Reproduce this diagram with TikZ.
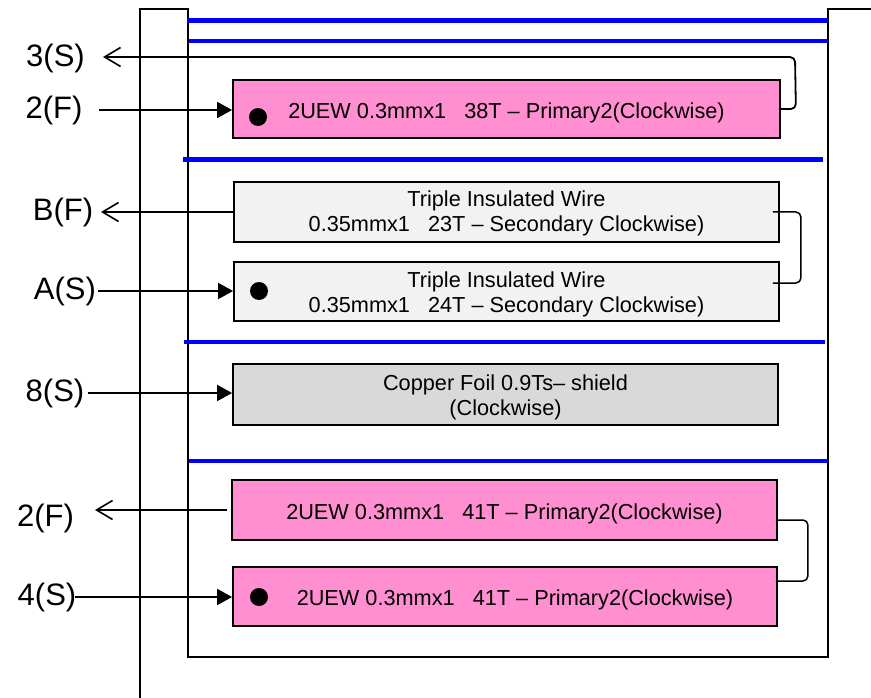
\documentclass[tikz,border=0pt]{standalone}
\usepackage{fontspec}
\setmainfont{Liberation Sans}
\usetikzlibrary{arrows.meta,calc}
\definecolor{coilpink}{RGB}{255,143,208}
\definecolor{tiwgrey}{RGB}{242,242,242}
\definecolor{foilgrey}{RGB}{217,217,217}
% text of a winding, lowered by #1 pt inside its box without changing the box size
\newcommand{\windtext}[2][3]{\raisebox{-#1pt}[\height][\depth]{\begin{tabular}{@{}c@{}}#2\end{tabular}}}
\begin{document}
\begin{tikzpicture}[x=1pt,y=-1pt,
  frame/.style={line width=2pt, line join=miter},
  barrier/.style={line width=4.5pt, color=blue},
  winding/.style={draw, line width=1.8pt, inner sep=0pt,
    minimum width=545pt, minimum height=60pt,
    font=\fontsize{21.7}{25}\selectfont},
  pinkwind/.style={winding, fill=coilpink},
  tiwwind/.style={winding, fill=tiwgrey},
  foilwind/.style={winding, fill=foilgrey},
  pin/.style={font=\fontsize{31}{33}\selectfont, inner sep=0pt},
  feed/.style={line width=1.8pt, -{Triangle[length=15pt,width=16pt]}},
  lead/.style={line width=1.8pt, -{Straight Barb[length=16pt,width=19pt,line width=1.6pt]}},
  jumper/.style={line width=1.5pt, rounded corners=5pt},
  startdot/.style={circle, fill=black, minimum size=18pt, inner sep=0pt}
]
\useasboundingbox (0,0) rectangle (871,698);

% bobbin outline
\draw[frame] (140,698) -- (140,9) -- (187.5,9) -- (187.5,657) -- (828,657) -- (828,9) -- (871,9);

% insulation tape layers
\draw[barrier] (187,20.5) -- (828,20.5);
\draw[barrier] (189,41) -- (828,41);
\draw[barrier] (183,159.5) -- (823,159.5);
\draw[barrier] (184,342) -- (825,342);
\draw[barrier] (189,461) -- (828,461);

% windings
\node[pinkwind, minimum width=547pt, minimum height=58pt] (box1) at (506.5,109)
  {\windtext[4.5]{2UEW 0.3mmx1\ \ \ 38T -- Primary2(Clockwise)}};
\node[tiwwind] (boxB) at (506.5,212)
  {\windtext[2.5]{Triple Insulated Wire\\0.35mmx1\ \ \ 23T -- Secondary Clockwise)}};
\node[tiwwind, minimum height=59pt] (boxA) at (506.5,291.5)
  {\windtext[3.5]{Triple Insulated Wire\\0.35mmx1\ \ \ 24T -- Secondary Clockwise)}};
\node[foilwind, minimum height=61pt] (foil) at (505.5,394.5)
  {\windtext[3.5]{Copper Foil 0.9Ts-- shield\\(Clockwise)}};
\node[pinkwind] (box2F) at (504.5,510)
  {\windtext[4.5]{2UEW 0.3mmx1\ \ \ 41T -- Primary2(Clockwise)}};
\node[pinkwind, minimum width=544pt, minimum height=59pt] (box4S) at (505,596.5)
  {\windtext[3.5]{\hspace*{20pt}2UEW 0.3mmx1\ \ \ 41T -- Primary2(Clockwise)}};

% start-of-winding dots
\node[startdot] (d1) at (258,117) {};
\node[startdot] (dA) at (259,291) {};
\node[startdot] (d4) at (259,597) {};

% pin labels
\node[pin] (l3S) at (55.5,58) {3(S)};
\node[pin] (l2Fa) at (54,110) {2(F)};
\node[pin] (lBF) at (63,212) {B(F)};
\node[pin] (lAS) at (65,291) {A(S)};
\node[pin] (l8S) at (55,393) {8(S)};
\node[pin] (l2Fb) at (45.5,518) {2(F)};
\node[pin] (l4S) at (47,597) {4(S)};

% lead ends
\coordinate (t3S) at (103,57);
\coordinate (s2Fa) at (99,110);
\coordinate (tBF) at (101,212);
\coordinate (sAS) at (98,291);
\coordinate (s8S) at (88,393);
\coordinate (t2Fb) at (95,510);
\coordinate (s4S) at (75,597);

% leads in and out
\draw[feed] (s2Fa) -- (s2Fa -| box1.west);
\draw[lead, rounded corners=5pt] (box1.east) -- ++(15,0) -- (795,57) -- (t3S);
\draw[lead] (boxB.west) -- (tBF);
\draw[feed] (sAS) -- (sAS -| boxA.west);
\draw[feed] (s8S) -- (s8S -| foil.west);
\draw[lead] ($(box2F.west)+(-4,0)$) -- (t2Fb);
\draw[feed] (s4S) -- (s4S -| box4S.west);

% jumpers between layers
\draw[jumper] ($(boxB.east)+(-7,0)$) -- ++(28,0) -- ++(0,71) -- ++(-28,0);
\draw[jumper] ($(box2F.east)+(-2,10)$) -- ++(32,0) -- ++(0,61) -- ++(-32,0);
\end{tikzpicture}
\end{document}
